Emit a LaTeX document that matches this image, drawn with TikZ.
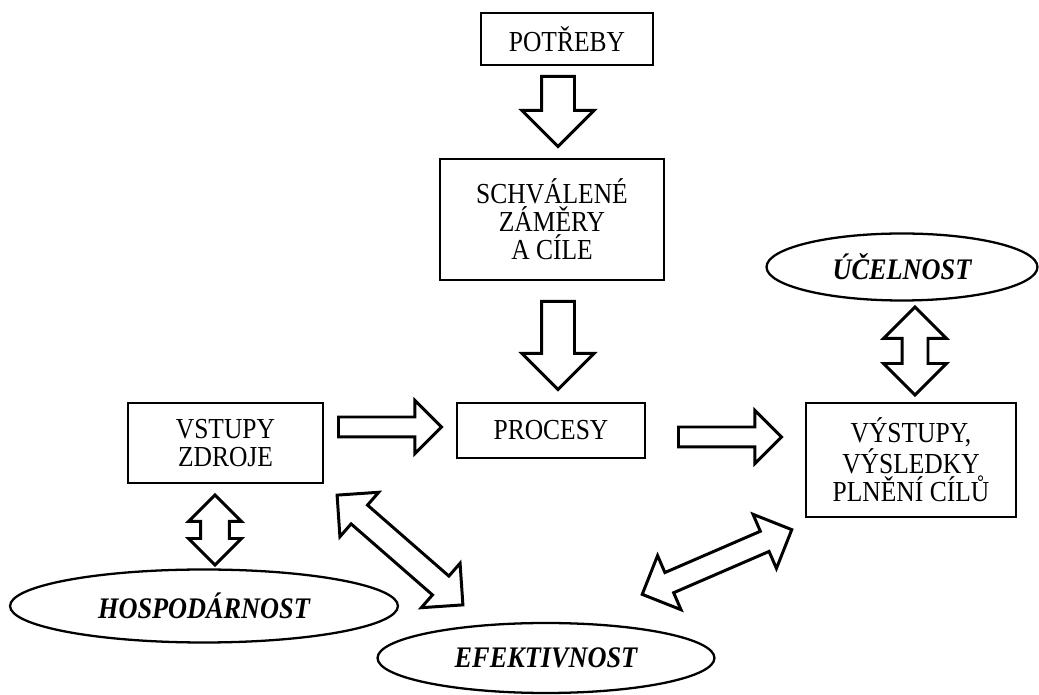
\documentclass[tikz,border=0pt]{standalone}
\usepackage{fontspec}
\setmainfont{Liberation Serif}[FakeStretch=0.88]
\usepackage{tikz}
\usetikzlibrary{shapes.geometric,shapes.arrows}

\begin{document}
\begin{tikzpicture}[x=0.02cm, y=-0.02cm,
  box/.style={draw, line width=1pt, rectangle, align=center, inner sep=0pt, font=\fontsize{16.5}{16}\selectfont},
  oval/.style={draw, line width=1.3pt, ellipse, inner sep=0pt, font=\fontsize{17}{16}\selectfont\bfseries\itshape},
  fwdarrow/.style={draw, line width=1.7pt, single arrow, anchor=tail, inner xsep=0pt, minimum width=0pt, single arrow head indent=0pt},
  botharrow/.style={draw, line width=1.7pt, double arrow, inner xsep=0pt, minimum width=0pt, double arrow head indent=0pt}]
  \useasboundingbox (0,0) rectangle (1039,695);
  % Boxes
  \node[box, minimum width=3.44cm, minimum height=1.04cm] (potreby) at (567,39) {POTŘEBY};
  \node[box, minimum width=4.48cm, minimum height=2.42cm] (zamery) at (552,219.5) {SCHVÁLENÉ\\ZÁMĚRY\\A CÍLE};
  \node[box, minimum width=3.76cm, minimum height=1.1cm] (procesy) at (551,430.5) {PROCESY};
  \node[box, minimum width=3.9cm, minimum height=1.6cm] (vstupy) at (225.5,443) {VSTUPY\\ZDROJE};
  \node[box, minimum width=4.2cm, minimum height=2.28cm] (vystupy) at (911,460) {VÝSTUPY,\\VÝSLEDKY\\PLNĚNÍ CÍLŮ};
  % Ellipses
  \node[oval, minimum width=5.42cm, minimum height=1.34cm] (ucelnost) at (902,267) {ÚČELNOST};
  \node[oval, minimum width=7.76cm, minimum height=1.46cm] (hospodarnost) at (204,606) {HOSPODÁRNOST};
  \node[oval, minimum width=6.74cm, minimum height=1.4cm] (efektivnost) at (546,658) {EFEKTIVNOST};
  % Block arrows (placed by their tails)
  \node[fwdarrow, rotate=-90, minimum height=1.4cm, inner ysep=0.3cm, single arrow head extend=0.39cm] (a1) at (558,75) {};
  \node[fwdarrow, rotate=-90, minimum height=1.76cm, inner ysep=0.3cm, single arrow head extend=0.39cm] (a2) at (558,300) {};
  \node[fwdarrow, minimum height=2.06cm, inner ysep=0.17cm, single arrow head extend=0.33cm] (r1) at (337,427) {};
  \node[fwdarrow, minimum height=2.06cm, inner ysep=0.17cm, single arrow head extend=0.33cm] (r2) at (677,437) {};
  % Double arrows
  \node[botharrow, rotate=90, minimum height=1.76cm, inner ysep=0.23cm, double arrow head extend=0.37cm] (u) at (915,351) {};
  \node[botharrow, rotate=90, minimum height=1.4cm, inner ysep=0.26cm, double arrow head extend=0.24cm] (h) at (215,530) {};
  \node[botharrow, rotate=-41.1, minimum height=3.34cm, inner ysep=0.22cm, double arrow head extend=0.34cm] (d1) at (400,550) {};
  \node[botharrow, rotate=23.4, minimum height=3.26cm, inner ysep=0.19cm, double arrow head extend=0.37cm] (d2) at (717,562) {};
\end{tikzpicture}
\end{document}
